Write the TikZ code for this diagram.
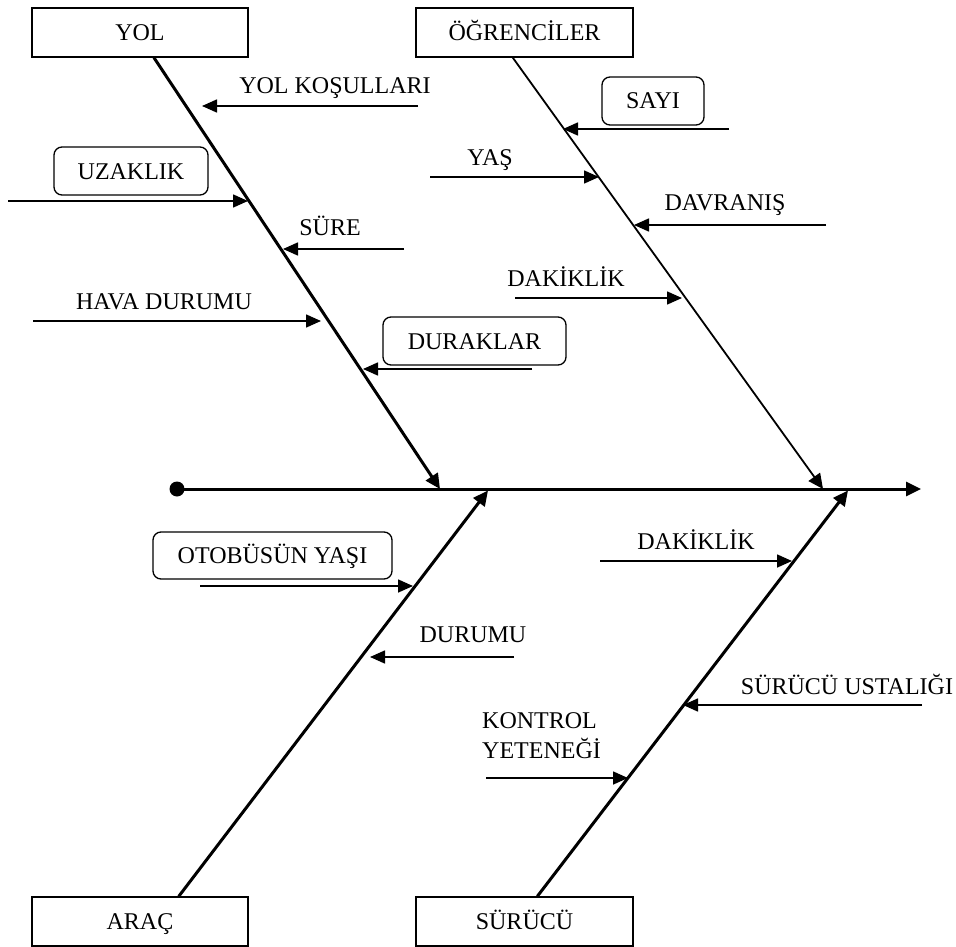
\documentclass[tikz,border=0pt]{standalone}
\usepackage{fontspec}
\setmainfont{Liberation Serif}
\usetikzlibrary{arrows.meta}

\begin{document}
\begin{tikzpicture}[x=1pt,y=1pt]
\tikzstyle{every node}+=[inner sep=0pt, font=\fontsize{24}{30}\selectfont]
\tikzstyle{cause}=[draw=black, line width=1.3pt, minimum height=49pt, text height=16pt, text depth=0pt]
\tikzstyle{sub}=[draw=black, line width=1.3pt, rounded corners=8pt, minimum height=48pt, text height=16pt, text depth=0pt]
\tikzstyle{bone}=[black, line width=3pt, -{Triangle[length=15pt,width=14pt]}]
\tikzstyle{twig}=[black, line width=1.6pt, -{Triangle[length=15pt,width=13pt]}]
\useasboundingbox (0,0) rectangle (956,-947);
\node [cause, minimum width=216pt] (yol) at (140,-32.5) {YOL};
\node [cause, minimum width=217pt] (ogr) at (524.5,-32.5) {ÖĞRENCİLER};
\node [cause, minimum width=216pt] (arac) at (140,-921.5) {ARAÇ};
\node [cause, minimum width=217pt] (surucu) at (524.5,-921.5) {SÜRÜCÜ};
\node [circle, fill=black, minimum size=15pt] (dot) at (177,-489) {};
\coordinate (head) at (921,-489);
\coordinate (yoltip) at (440,-489);
\coordinate (ogrtip) at (823,-489);
\coordinate (aractip) at (488,-490.5);
\coordinate (surtip) at (848,-490.5);
\draw [bone] (dot.center) -- (head);
\draw [bone] (yol.-61.6) -- (yoltip);
\draw [bone, line width=1.8pt] (ogr.-115.6) -- (ogrtip);
\draw [bone] (arac.33.5) -- (aractip);
\draw [bone] (surucu.63) -- (surtip);
\node [anchor=base] (kosul) at (335,-94) {YOL KOŞULLARI};
\coordinate (kosulA) at (418,-106);
\coordinate (kosulB) at (202,-106);
\draw [twig] (kosulA) -- (kosulB);
\node [sub, minimum width=154pt] (uzak) at (131,-171) {UZAKLIK};
\coordinate (uzakA) at (8,-201);
\coordinate (uzakB) at (248,-201);
\draw [twig] (uzakA) -- (uzakB);
\node [anchor=base] (sure) at (330,-235) {SÜRE};
\coordinate (sureA) at (404,-249);
\coordinate (sureB) at (283,-249);
\draw [twig] (sureA) -- (sureB);
\node [anchor=base] (hava) at (164,-309) {HAVA DURUMU};
\coordinate (havaA) at (33,-321);
\coordinate (havaB) at (321,-321);
\draw [twig] (havaA) -- (havaB);
\node [sub, minimum width=183pt] (durak) at (474.5,-341) {DURAKLAR};
\coordinate (durakA) at (532,-369);
\coordinate (durakB) at (363,-369);
\draw [twig] (durakA) -- (durakB);
\node [sub, minimum width=102pt] (sayi) at (653,-101) {SAYI};
\coordinate (sayiA) at (729,-129);
\coordinate (sayiB) at (563,-129);
\draw [twig] (sayiA) -- (sayiB);
\node [anchor=base] (yas) at (490,-166) {YAŞ};
\coordinate (yasA) at (430,-177);
\coordinate (yasB) at (599,-177);
\draw [twig] (yasA) -- (yasB);
\node [anchor=base] (davr) at (725,-210) {DAVRANIŞ};
\coordinate (davrA) at (826,-225);
\coordinate (davrB) at (634,-225);
\draw [twig] (davrA) -- (davrB);
\node [anchor=base] (dak) at (566,-286) {DAKİKLİK};
\coordinate (dakA) at (515,-298);
\coordinate (dakB) at (682,-298);
\draw [twig] (dakA) -- (dakB);
\node [sub, minimum width=239pt, minimum height=47pt] (otob) at (272.5,-555.5) {OTOBÜSÜN YAŞI};
\coordinate (otobA) at (200,-586);
\coordinate (otobB) at (413,-586);
\draw [twig] (otobA) -- (otobB);
\node [anchor=base] (durum) at (473,-642) {DURUMU};
\coordinate (durumA) at (514,-657);
\coordinate (durumB) at (370,-657);
\draw [twig] (durumA) -- (durumB);
\node [anchor=base] (dak2) at (696,-549) {DAKİKLİK};
\coordinate (dak2A) at (600,-561);
\coordinate (dak2B) at (792,-561);
\draw [twig] (dak2A) -- (dak2B);
\node [anchor=base] (usta) at (847,-694) {SÜRÜCÜ USTALIĞI};
\coordinate (ustaA) at (922,-705);
\coordinate (ustaB) at (683,-705);
\draw [twig] (ustaA) -- (ustaB);
\node [anchor=north west, align=left] (kontrol) at (482,-712) {KONTROL\\YETENEĞİ};
\coordinate (kontrolA) at (486,-778);
\coordinate (kontrolB) at (628,-778);
\draw [twig] (kontrolA) -- (kontrolB);
\end{tikzpicture}
\end{document}
